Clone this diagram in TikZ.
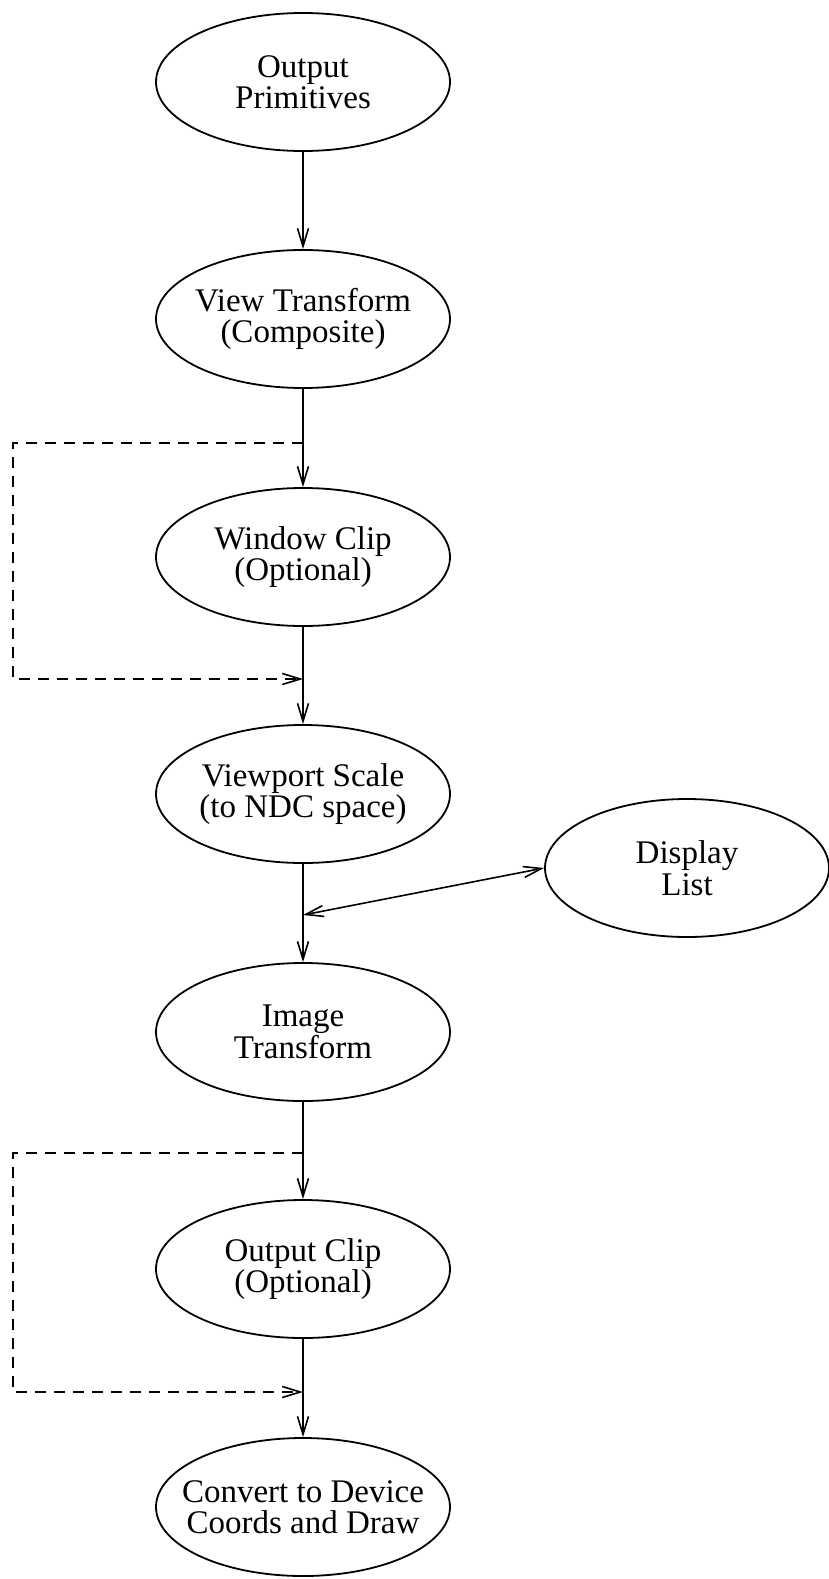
\documentclass[tikz,border=0pt]{standalone}
\usepackage{fontspec}
\setmainfont{Liberation Serif}
\usetikzlibrary{shapes.geometric,arrows.meta}

\tikzset{
  stage/.style={ellipse,draw,line width=1.8pt,minimum width=294pt,minimum height=138pt,
    inner xsep=-25pt,inner ysep=0pt,align=center,font=\fontsize{33}{31.5}\selectfont},
  barb/.tip={Straight Barb[length=18pt,width=11pt,line width=1.6pt]},
  flow/.style={line width=1.6pt,-barb},
  twoway/.style={line width=1.6pt,barb-barb},
  bypass/.style={flow,dash pattern=on 11pt off 8pt}
}

\begin{document}
\begin{tikzpicture}[x=1pt,y=-1pt]
  \useasboundingbox (0,0) rectangle (829,1579);

  \node[stage] (prim)  at (303,82)   {Output\\Primitives};
  \node[stage] (view)  at (303,319)  {View Transform\\(Composite)};
  \node[stage] (wclip) at (303,557)  {Window Clip\\(Optional)};
  \node[stage] (vport) at (303,794)  {Viewport Scale\\(to NDC space)};
  \node[stage] (image) at (303,1032) {Image\\Transform};
  \node[stage] (oclip) at (303,1269) {Output Clip\\(Optional)};
  \node[stage] (conv)  at (303,1507) {Convert to Device\\Coords and Draw};
  \node[stage,minimum width=284pt] (dlist) at (687,868) {Display\\List};

  \coordinate (tapA)  at (303,443);
  \coordinate (joinA) at (303,679);
  \coordinate (tapB)  at (303,1153);
  \coordinate (joinB) at (303,1392);
  \coordinate (meet)  at (303,915);

  \draw[flow] (prim) -- (view);
  \draw[flow] (view) -- (wclip);
  \draw[flow] (wclip) -- (vport);
  \draw[flow] (vport) -- (image);
  \draw[flow] (image) -- (oclip);
  \draw[flow] (oclip) -- (conv);

  % clipping may be skipped
  \draw[bypass] (tapA) -- ++(-290,0) |- (joinA);
  \draw[bypass] (tapB) -- ++(-290,0) |- (joinB);

  \draw[twoway] (meet) -- (dlist.west);
\end{tikzpicture}
\end{document}
